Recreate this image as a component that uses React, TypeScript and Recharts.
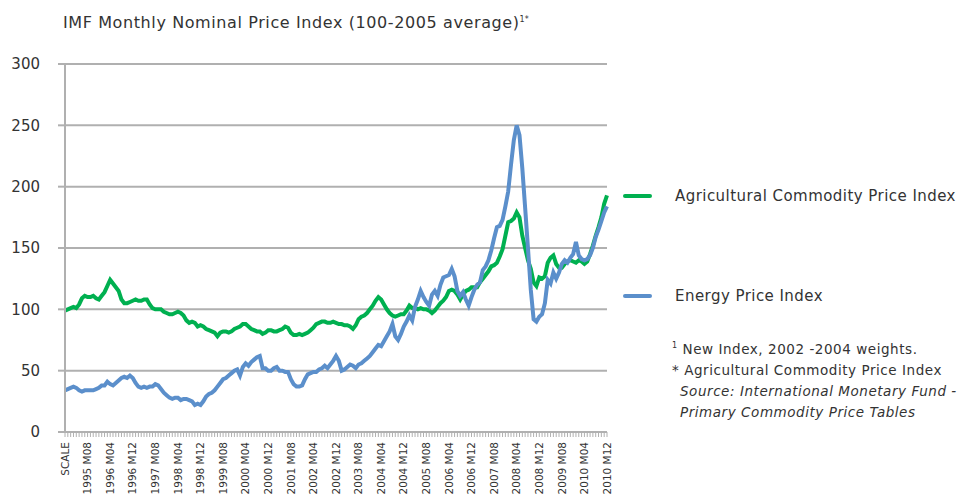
import React from 'react';
import { LineChart, Line, XAxis, YAxis, CartesianGrid } from 'recharts';

// Monthly index values (2005 average = 100), first point sits on the "SCALE" slot
const agricultureIndex = [
  99,
  100, 101, 102, 101, 104, 109, 111, 110, 110, 111, 109, 108, // 1995
  111, 114, 119, 124, 121, 118, 115, 108, 105, 105, 106, 107, // 1996
  108, 107, 107, 108, 108, 104, 101, 100, 100, 100, 98, 97, // 1997
  96, 96, 97, 98, 97, 95, 91, 89, 90, 89, 86, 87, // 1998
  86, 84, 83, 82, 81, 78, 81, 82, 82, 81, 82, 84, // 1999
  85, 86, 88, 88, 86, 84, 83, 82, 82, 80, 81, 83, // 2000
  83, 82, 82, 83, 84, 86, 85, 81, 79, 79, 80, 79, // 2001
  80, 81, 83, 85, 88, 89, 90, 90, 89, 89, 90, 89, // 2002
  88, 88, 87, 87, 86, 84, 87, 92, 94, 95, 97, 100, // 2003
  103, 107, 110, 108, 104, 100, 97, 95, 94, 95, 96, 96, // 2004
  99, 103, 101, 101, 100, 101, 100, 100, 99, 97, 99, 102, // 2005
  105, 107, 110, 115, 116, 115, 112, 108, 112, 115, 116, 118, // 2006
  118, 118, 122, 125, 128, 131, 135, 136, 138, 143, 149, 160, // 2007
  171, 172, 174, 179, 175, 160, 150, 140, 133, 122, 119, 126, // 2008
  125, 127, 138, 142, 144, 137, 134, 134, 137, 139, 140, 139, // 2009
  138, 140, 139, 137, 139, 145, 152, 160, 167, 175, 186, 193, // 2010
];

const energyIndex = [
  34,
  35, 36, 37, 36, 34, 33, 34, 34, 34, 34, 35, 36, // 1995
  38, 38, 41, 39, 38, 40, 42, 44, 45, 44, 46, 44, // 1996
  40, 37, 36, 37, 36, 37, 37, 39, 38, 35, 32, 30, // 1997
  28, 27, 28, 28, 26, 27, 27, 26, 25, 22, 23, 22, // 1998
  25, 29, 31, 32, 34, 37, 40, 43, 44, 46, 48, 50, // 1999
  51, 46, 53, 56, 54, 57, 59, 61, 62, 52, 52, 50, // 2000
  50, 52, 53, 50, 50, 49, 49, 43, 39, 37, 37, 38, // 2001
  43, 47, 48, 49, 49, 51, 52, 54, 52, 55, 58, 62, // 2002
  58, 50, 51, 53, 55, 54, 52, 55, 56, 58, 60, 62, // 2003
  65, 68, 71, 70, 74, 78, 82, 88, 78, 75, 80, 86, // 2004
  90, 95, 91, 102, 108, 115, 110, 106, 103, 112, 115, 111, // 2005
  120, 126, 127, 128, 133, 127, 115, 111, 114, 108, 103, 110, // 2006
  116, 120, 122, 132, 135, 140, 148, 158, 167, 168, 173, 184, // 2007
  196, 218, 238, 250, 242, 215, 183, 150, 116, 92, 90, 94, // 2008
  96, 105, 124, 121, 130, 125, 130, 137, 140, 138, 142, 145, // 2009
  155, 144, 141, 140, 141, 144, 150, 159, 165, 172, 179, 184, // 2010
];

const years = [1995, 1996, 1997, 1998, 1999, 2000, 2001, 2002, 2003, 2004, 2005, 2006, 2007, 2008, 2009, 2010];
const yTicks = [0, 50, 100, 150, 200, 250, 300];

const categories: string[] = ['SCALE'];
years.forEach((y) => {
  for (let m = 1; m <= 12; m++) categories.push(`${y} M${String(m).padStart(2, '0')}`);
});

const data = categories.map((name, i) => ({
  name,
  agri: agricultureIndex[i],
  energy: energyIndex[i],
}));

const GREEN = '#00b050';
const BLUE = '#5b8fcb';
const GRID = '#b0b0b0';
const FONT = '"DejaVu Sans", sans-serif';

// only every 8th month gets a label, but every month gets a tick mark
const MonthTick = (props: any) => {
  const { x, y, index, payload } = props;
  if (index % 8 !== 0) return null;
  return (
    <g transform={`translate(${x},${y})`}>
      <text transform="rotate(-90)" x={-3} y={0} dy="0.35em" textAnchor="end"
        fontSize={10.5} fill="#333" fontFamily={FONT}>
        {payload.value}
      </text>
    </g>
  );
};

export default function App() {
  return (
    <div style={{ position: 'absolute', left: 0, top: 0, width: 959, height: 497, background: '#fff', fontFamily: FONT, color: '#333', overflow: 'hidden' }}>
      <div style={{ position: 'absolute', left: 63, top: 9, fontSize: 16, letterSpacing: 0.6, lineHeight: '22px', whiteSpace: 'nowrap' }}>
        IMF Monthly Nominal Price Index (100-2005 average)<sup style={{ fontSize: 8, letterSpacing: 0 }}>1*</sup>
      </div>

      <LineChart width={959} height={497} data={data}
        margin={{ top: 64, right: 352, left: 0, bottom: 5 }}>
        <CartesianGrid vertical={false} stroke={GRID} strokeWidth={2} />
        <XAxis dataKey="name" interval={0} height={60} tick={<MonthTick />}
          axisLine={{ stroke: GRID, strokeWidth: 2 }} tickLine={{ stroke: GRID }} tickSize={5} tickMargin={2} />
        <YAxis domain={[0, 300]} ticks={yTicks} width={65} interval={0}
          axisLine={{ stroke: GRID, strokeWidth: 2 }} tickLine={{ stroke: GRID, strokeWidth: 2 }}
          tickSize={7} tickMargin={18}
          tick={{ fontSize: 15, fill: '#333', fontFamily: FONT }} />
        <Line type="linear" dataKey="agri" stroke={GREEN} strokeWidth={4} dot={false} isAnimationActive={false} />
        <Line type="linear" dataKey="energy" stroke={BLUE} strokeWidth={4} dot={false} isAnimationActive={false} />
      </LineChart>

      <div style={{ position: 'absolute', left: 623, top: 194, width: 29, height: 4, background: GREEN, borderRadius: 2 }} />
      <div style={{ position: 'absolute', left: 675, top: 185, fontSize: 15, letterSpacing: 0.45, lineHeight: '22px', whiteSpace: 'nowrap' }}>Agricultural Commodity Price Index</div>
      <div style={{ position: 'absolute', left: 623, top: 294, width: 29, height: 4, background: BLUE, borderRadius: 2 }} />
      <div style={{ position: 'absolute', left: 675, top: 285, fontSize: 15, letterSpacing: 0.45, lineHeight: '22px', whiteSpace: 'nowrap' }}>Energy Price Index</div>

      <div style={{ position: 'absolute', left: 672, top: 335, fontSize: 13.5, letterSpacing: 0.55, lineHeight: '21px', whiteSpace: 'nowrap' }}>
        <div><sup style={{ fontSize: 8 }}>1</sup> New Index, 2002 -2004 weights.</div>
        <div>* Agricultural Commodity Price Index</div>
        <div style={{ fontStyle: 'italic', paddingLeft: 8 }}>Source: International Monetary Fund -</div>
        <div style={{ fontStyle: 'italic', paddingLeft: 8 }}>Primary Commodity Price Tables</div>
      </div>
    </div>
  );
}
